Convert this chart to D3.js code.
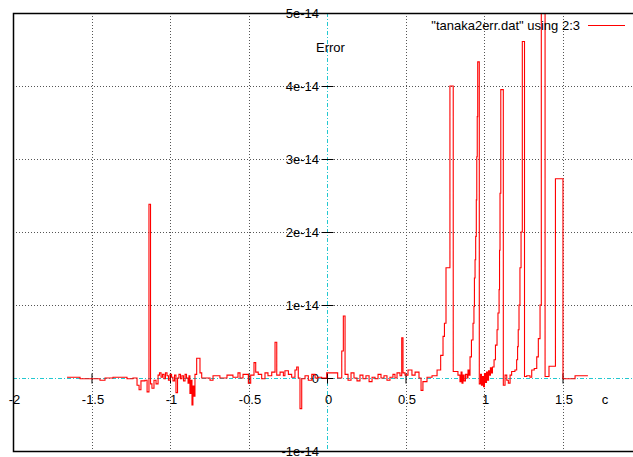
<!DOCTYPE html>
<html>
<head>
<meta charset="utf-8">
<script src="https://cdn.jsdelivr.net/npm/d3@7"></script>
<style>
  html, body { margin: 0; padding: 0; background: #fff; }
  svg { display: block; }
  text { font-family: "Liberation Sans", Arial, Helvetica, sans-serif; font-size: 13px; fill: #000; }
</style>
</head>
<body>
<svg id="chart" width="633" height="457"></svg>
<script>
// c values (x axis)
const cValues = [
  -1.656, -1.573, -1.446, -1.414, -1.363, -1.299, -1.274, -1.236, -1.210, -1.197,
  -1.185, -1.159, -1.146, -1.134, -1.124, -1.115, -1.102, -1.089, -1.076, -1.067,
  -1.057, -1.048, -1.038, -1.029, -1.019, -1.010, -1.000, -0.990, -0.981, -0.971,
  -0.962, -0.952, -0.943, -0.933, -0.924, -0.914, -0.904, -0.895, -0.885, -0.879,
  -0.873, -0.866, -0.860, -0.854, -0.847, -0.841, -0.830, -0.809, -0.798, -0.745,
  -0.726, -0.682, -0.637, -0.599, -0.567, -0.554, -0.535, -0.501, -0.486, -0.465,
  -0.454, -0.438, -0.416, -0.395, -0.376, -0.352, -0.331, -0.320, -0.299, -0.278,
  -0.268, -0.246, -0.225, -0.204, -0.193, -0.183, -0.172, -0.161, -0.140, -0.119,
  -0.097, -0.076, -0.055, -0.034, -0.002, 0.068, 0.094, 0.104, 0.115, 0.134,
  0.153, 0.172, 0.191, 0.210, 0.229, 0.248, 0.268, 0.287, 0.306, 0.325,
  0.344, 0.363, 0.382, 0.401, 0.420, 0.433, 0.446, 0.465, 0.476, 0.484,
  0.497, 0.516, 0.541, 0.561, 0.586, 0.599, 0.611, 0.637, 0.669, 0.701,
  0.724, 0.739, 0.748, 0.758, 0.783, 0.804, 0.834, 0.847, 0.854, 0.860,
  0.866, 0.873, 0.882, 0.892, 0.898, 0.904, 0.911, 0.920, 0.930, 0.936,
  0.939, 0.943, 0.947, 0.951, 0.954, 0.957, 0.960, 0.970, 0.978, 0.984,
  0.990, 0.997, 1.003, 1.010, 1.016, 1.022, 1.029, 1.035, 1.041, 1.048,
  1.054, 1.064, 1.073, 1.083, 1.089, 1.096, 1.099, 1.102, 1.107, 1.123,
  1.134, 1.145, 1.155, 1.166, 1.176, 1.197, 1.208, 1.214, 1.218, 1.223,
  1.229, 1.236, 1.244, 1.258, 1.272, 1.293, 1.304, 1.320, 1.336, 1.346,
  1.357, 1.365, 1.389, 1.414, 1.455, 1.503, 1.580, 1.662
];
// Error values, in units of 1e-14
const errorValues = [
  0.01, -0.01, -0.03, 0.00, 0.01, 0.01, -0.01, 0.00, -0.10, -0.16,
  -0.04, -0.03, -0.19, 2.38, -0.08, -0.14, -0.03, -0.08, 0.04, 0.07,
  0.01, 0.05, -0.01, 0.07, 0.03, -0.03, 0.05, 0.01, -0.04, 0.04,
  -0.20, 0.00, 0.05, -0.01, 0.03, -0.04, 0.05, 0.00, -0.07, 0.03,
  -0.21, -0.03, -0.37, -0.11, -0.25, 0.05, 0.27, 0.07, 0.00, -0.03,
  0.03, 0.00, 0.04, 0.01, 0.07, 0.00, 0.05, -0.07, 0.04, 0.21,
  0.08, 0.05, -0.01, 0.07, 0.03, 0.08, 0.49, 0.04, 0.08, 0.03,
  0.10, 0.05, 0.01, 0.11, 0.15, 0.00, -0.42, -0.01, 0.03, -0.03,
  0.05, 0.00, 0.01, 0.00, 0.07, 0.00, 0.37, 0.85, 0.05, -0.03,
  0.07, 0.00, -0.04, 0.04, -0.01, 0.03, -0.05, 0.01, -0.01, 0.05,
  0.00, 0.03, -0.03, 0.01, 0.05, 0.00, 0.07, 0.03, 0.55, 0.07,
  0.04, 0.11, 0.04, 0.08, 0.00, -0.17, -0.05, 0.01, 0.03, 0.11,
  0.31, 0.57, 0.75, 1.51, 4.00, 0.09, 0.04, -0.05, 0.08, -0.07,
  0.04, -0.04, 0.05, 0.00, 0.11, 0.04, 0.29, 0.52, 0.75, 0.98,
  1.37, 1.62, 1.94, 2.44, 3.03, 3.58, 4.33, -0.08, 0.05, -0.10,
  0.02, -0.12, 0.06, -0.06, 0.08, -0.03, 0.10, 0.04, 0.14, 0.07,
  0.15, 0.25, 0.45, 0.66, 0.89, 1.21, 1.75, 2.53, 3.95, -0.10,
  0.04, -0.03, -0.07, 0.04, 0.09, 0.11, 0.25, 0.43, 0.66, 1.00,
  1.51, 2.00, 4.61, 0.02, 0.03, 0.01, 0.11, 0.13, 0.29, 0.54,
  1.00, 5.60, 0.02, 0.16, 2.73, -0.01, 0.03, 0.03
];
const xTicks = [-2, -1.5, -1, -0.5, 0, 0.5, 1, 1.5];
const xTickLabels = ["-2", "-1.5", "-1", "-0.5", "0", "0.5", "1", "1.5"];
const yTicks = [-1, 0, 1, 2, 3, 4, 5];
const yTickLabels = ["-1e-14", "0", "1e-14", "2e-14", "3e-14", "4e-14", "5e-14"];
const xGrid = [-1.5, -1, -0.5, 0.5, 1, 1.5];
const yGrid = [1, 2, 3, 4];
const legendLabel = '"tanaka2err.dat" using 2:3';
const xLabel = "c";
const yLabel = "Error";

const svg = d3.select("#chart");
const L = 13, T = 13, R = 641, B = 451;
const x = d3.scaleLinear().domain([-2, 2]).range([L, R]);
const y = d3.scaleLinear().domain([-1, 5]).range([B, T]);

// grid
svg.append("g").selectAll("line").data(xGrid).join("line")
  .attr("x1", d => Math.round(x(d)) + 0.5).attr("x2", d => Math.round(x(d)) + 0.5)
  .attr("y1", T).attr("y2", B)
  .attr("stroke", "#555").attr("stroke-width", 1).attr("stroke-dasharray", "1,2");
svg.append("g").selectAll("line").data(yGrid).join("line")
  .attr("y1", d => Math.round(y(d)) + 0.5).attr("y2", d => Math.round(y(d)) + 0.5)
  .attr("x1", L).attr("x2", R)
  .attr("stroke", "#555").attr("stroke-width", 1).attr("stroke-dasharray", "1,2");

// zero axes (cyan dash-dot)
const x0 = Math.round(x(0)) + 0.5, y0 = Math.round(y(0)) + 0.5;
svg.append("line").attr("x1", L).attr("x2", R).attr("y1", y0).attr("y2", y0)
  .attr("stroke", "#22c8d0").attr("stroke-width", 1).attr("stroke-dasharray", "4,2,1,2");
svg.append("line").attr("x1", x0).attr("x2", x0).attr("y1", T).attr("y2", B)
  .attr("stroke", "#22c8d0").attr("stroke-width", 1).attr("stroke-dasharray", "4,2,1,2");

// x axis ticks + labels at y=0
const xAxis = d3.axisBottom(x).tickValues(xTicks)
  .tickFormat((d, i) => xTickLabels[i]).tickSize(0);
const gx = svg.append("g").attr("transform", `translate(0,${y0})`).call(xAxis);
gx.select(".domain").remove();
gx.selectAll(".tick line").attr("y1", -5).attr("y2", 5).attr("stroke", "#000");
gx.selectAll(".tick text").attr("y", 25.5).attr("dy", 0).attr("dx", 1)
  .style("font-family", '"Liberation Sans", Arial, sans-serif').style("font-size", "13px").attr("fill", "#000");

// y axis ticks + labels at x=0
const yAxis = d3.axisLeft(y).tickValues(yTicks)
  .tickFormat((d, i) => yTickLabels[i]).tickSize(0);
const gy = svg.append("g").attr("transform", `translate(${x0},0)`).call(yAxis);
gy.select(".domain").remove();
gy.selectAll(".tick line").attr("x1", -6).attr("x2", 6).attr("stroke", "#000");
gy.selectAll(".tick text").attr("x", -8.5).attr("dy", "0.36em").attr("text-anchor", "end")
  .style("font-family", '"Liberation Sans", Arial, sans-serif').style("font-size", "13px").attr("fill", "#000");

// data
svg.append("clipPath").attr("id", "clip").append("rect")
  .attr("x", L).attr("y", T).attr("width", R - L).attr("height", B - T);
const pts = cValues.map((c, i) => [c, errorValues[i]]);
const line = d3.line().x(d => x(d[0])).y(d => y(d[1])).curve(d3.curveStepAfter);
svg.append("path").attr("clip-path", "url(#clip)")
  .attr("d", line(pts)).attr("fill", "none").attr("stroke", "#ff0000").attr("stroke-width", 1.1);

// border
svg.append("path")
  .attr("d", `M${R},${T + 0.5}H${L + 0.5}V${B + 0.5}H${R}`)
  .attr("fill", "none").attr("stroke", "#000").attr("stroke-width", 1.5);

// labels
svg.append("text").attr("x", 316).attr("y", 52).text(yLabel);
svg.append("text").attr("x", 605).attr("y", 403.5).attr("text-anchor", "middle").text(xLabel);

// legend
svg.append("text").attr("x", 580).attr("y", 30).attr("text-anchor", "end").text(legendLabel);
svg.append("line").attr("x1", 588).attr("x2", 625).attr("y1", 25.5).attr("y2", 25.5)
  .attr("stroke", "#ff0000").attr("stroke-width", 1);
</script>
</body>
</html>
